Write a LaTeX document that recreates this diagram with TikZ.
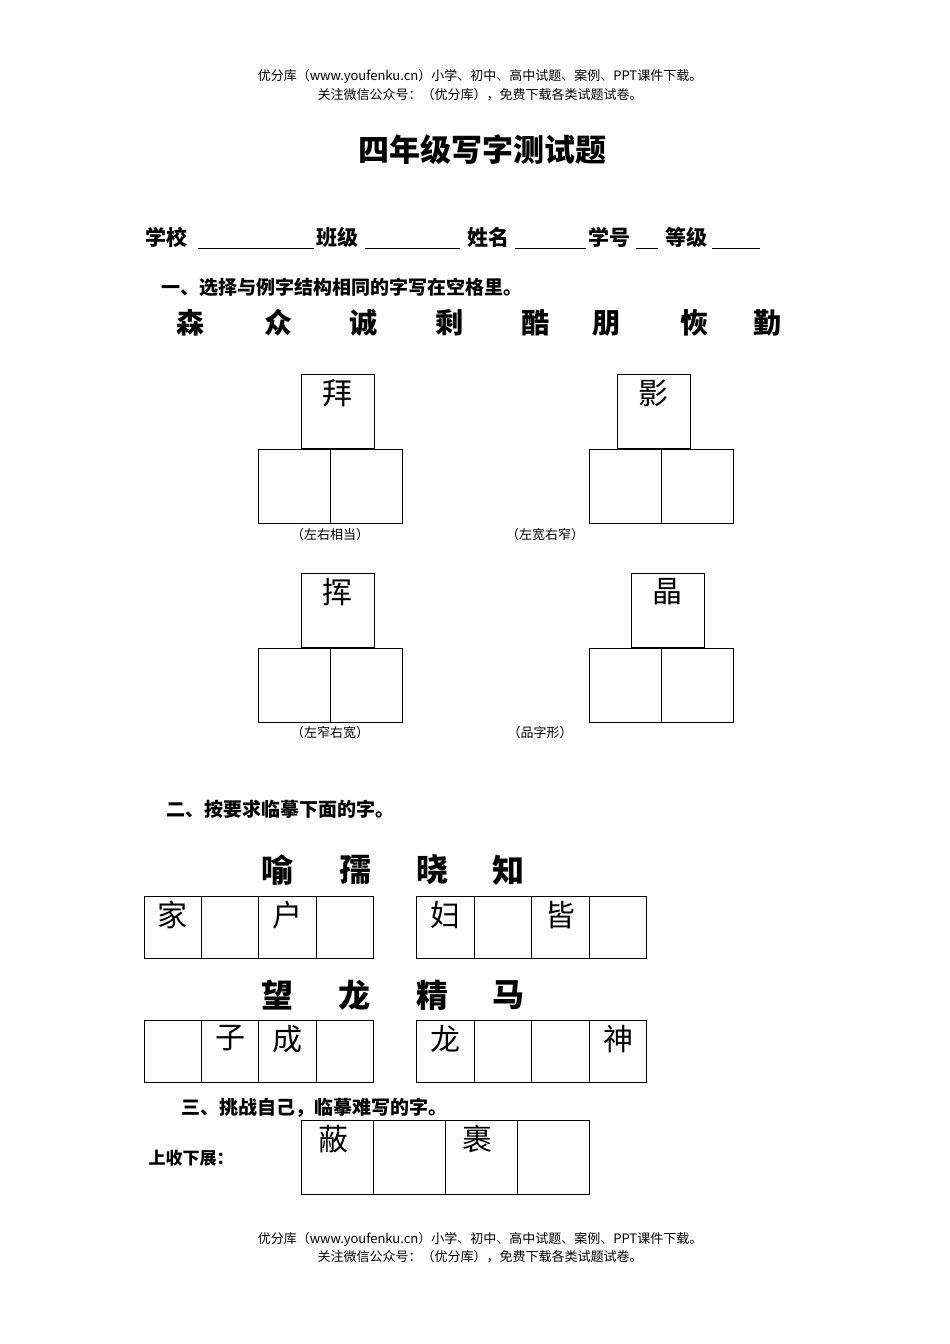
\documentclass[tikz,border=0pt]{standalone}
\usepackage{fontspec}
\setmainfont{Noto Sans CJK SC}
\newfontfamily\bold{Noto Sans CJK SC Bold}
\begin{document}
\begin{tikzpicture}[x=1pt,y=-1pt,
  bx/.style={draw,line width=0.8pt},
  hd/.style={font=\fontsize{13}{15}\selectfont},
  bc/.style={font=\fontsize{28}{30}\selectfont\bfseries},
  ic/.style={font=\fontsize{30}{32}\selectfont,anchor=north},
  lb/.style={font=\fontsize{13}{15}\selectfont},
  sec/.style={font=\fontsize{19}{21}\selectfont\bfseries,anchor=west}]
\useasboundingbox (0,0) rectangle (950,1344);
\node[hd] (h1) at (480,76) {优分库（www.youfenku.cn）小学、初中、高中试题、案例、PPT课件下载。};
\node[hd] (h2) at (480,95) {关注微信公众号：（优分库），免费下载各类试题试卷。};
\node[hd] (f1) at (480,1239) {优分库（www.youfenku.cn）小学、初中、高中试题、案例、PPT课件下载。};
\node[hd] (f2) at (480,1257) {关注微信公众号：（优分库），免费下载各类试题试卷。};
\node[font=\fontsize{31}{33}\selectfont\bfseries] (t) at (482,150) {四年级写字测试题};
% info line
\begin{scope}[font=\fontsize{21}{23}\selectfont\bfseries]
\node[anchor=west,inner sep=0] (s1) at (145,237) {学校};
\node[anchor=west,inner sep=0] (s2) at (316,237) {班级};
\node[anchor=west,inner sep=0] (s3) at (467,237) {姓名};
\node[anchor=west,inner sep=0] (s4) at (588,237) {学号};
\node[anchor=west,inner sep=0] (s5) at (665,237) {等级};
\end{scope}
\foreach \a/\b in {198/314,365/460,515/586,636/658,712/760}
  \draw[line width=0.8pt] (\a,248) -- (\b,248);
\node[sec] (q1) at (158,287) {一、选择与例字结构相同的字写在空格里。};
\foreach \c/\x in {森/190,众/278,诚/363,剩/449,酷/535,朋/606,恢/694,勤/767}
  \node[bc] at (\x,323) {\c};
% group boxes
\newcommand{\grp}[5]{% topx, topy, botx, char, label
  \draw[bx] (#1,#2) rectangle ++(73,74);
  \draw[bx] (#3,#2+75) rectangle ++(72,74);
  \draw[bx] (#3+72,#2+75) rectangle ++(72,74);
  \node[ic] at (#1+36.5,#2+2) {#4};}
\grp{301}{374}{258}{拜}{}
\grp{617}{374}{589}{影}{}
\grp{301}{573}{258}{挥}{}
\grp{631}{573}{589}{晶}{}
\node[lb] (l1) at (330,535) {（左右相当）};
\node[lb] (l2) at (545,535) {（左宽右窄）};
\node[lb] (l3) at (330,733) {（左窄右宽）};
\node[lb] (l4) at (540,733) {（品字形）};
% section 2
\node[sec] (q2) at (163,809) {二、按要求临摹下面的字。};
\foreach \c/\x in {喻/277,孺/355,晓/432,知/508}
  \node[bc,font=\fontsize{32}{34}\selectfont\bfseries] at (\x,870) {\c};
\foreach \c/\x in {望/277,龙/354,精/432,马/508}
  \node[bc,font=\fontsize{32}{34}\selectfont\bfseries] at (\x,995) {\c};
\foreach \y in {896,1020}{
  \foreach \a/\b in {144/201,201/258,258/316,316/373,416/474,474/531,531/589,589/646}
    \draw[bx] (\a,\y) rectangle (\b,\y+62);}
\foreach \c/\x in {家/172,户/287,妇/445,皆/560}
  \node[ic] at (\x,898) {\c};
\foreach \c/\x in {子/230,成/287,龙/445,神/618}
  \node[ic] at (\x,1022) {\c};
% section 3
\node[sec] (q3) at (178,1108) {三、挑战自己，临摹难写的字。};
\node[font=\fontsize{17}{19}\selectfont\bfseries,anchor=west] (q3b) at (145,1158) {上收下展：};
\foreach \a/\b in {301/373,373/445,445/517,517/589}
  \draw[bx] (\a,1120) rectangle (\b,1194);
\node[ic] at (333,1122) {蔽};
\node[ic] at (477,1122) {裹};
\end{tikzpicture}
\end{document}
